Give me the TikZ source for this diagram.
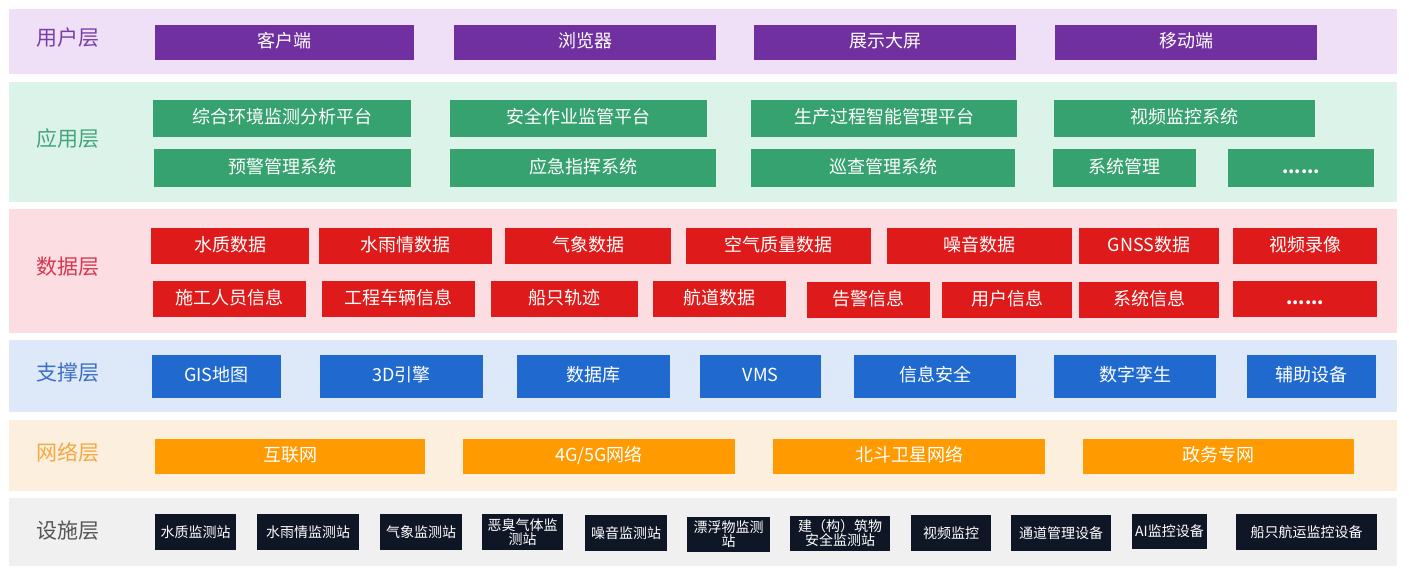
\documentclass[tikz,border=0pt]{standalone}
\usepackage{fontspec}
\newfontfamily\cjk{Noto Sans CJK SC}
\definecolor{userbg}{HTML}{EFE0F8}
\definecolor{appbg}{HTML}{DCF3EA}
\definecolor{databg}{HTML}{FCDEE2}
\definecolor{supbg}{HTML}{DDE9F8}
\definecolor{netbg}{HTML}{FDEFDE}
\definecolor{facbg}{HTML}{F0F0F0}
\definecolor{userfill}{HTML}{7030A0}
\definecolor{appfill}{HTML}{36A26F}
\definecolor{datafill}{HTML}{DF1A1A}
\definecolor{supfill}{HTML}{2069CF}
\definecolor{netfill}{HTML}{FF9A00}
\definecolor{facfill}{HTML}{0F1626}
\definecolor{userlbl}{HTML}{7A3FA6}
\definecolor{applbl}{HTML}{45A47E}
\definecolor{datalbl}{HTML}{D9364F}
\definecolor{suplbl}{HTML}{3D6EC5}
\definecolor{netlbl}{HTML}{F5A742}
\definecolor{faclbl}{HTML}{555555}
\tikzset{
  blkbase/.style={inner sep=0pt, text=white, font=\cjk\fontsize{18}{20}\selectfont},
  blkline/.style={blkbase, text height=14pt, text depth=4pt},
  userbox/.style={blkline, fill=userfill},
  appbox/.style={blkline, fill=appfill},
  databox/.style={blkline, fill=datafill},
  supbox/.style={blkline, fill=supfill},
  netbox/.style={blkline, fill=netfill},
  facbox/.style={blkbase, fill=facfill, align=center, font=\cjk\fontsize{14}{14}\selectfont},
  layerlabel/.style={inner sep=0pt, font=\cjk\fontsize{21}{23}\selectfont}
}
\def\blk[#1](#2)(#3,#4)(#5,#6)#7{\node[#1, minimum width={(#5-#3)*1pt}, minimum height={(#6-#4)*1pt}] (#2) at ({(#3+#5)/2},{(#4+#6)/2}) {#7};}

\begin{document}
\begin{tikzpicture}[x=1pt,y=-1pt]
			%%%%% START %%%%%
			\useasboundingbox (0,0) rectangle (1409,576);
			
			\fill[userbg] (9,9) rectangle (1397,74);
			\fill[appbg] (9,82) rectangle (1397,202);
			\fill[databg] (9,209) rectangle (1397,333);
			\fill[supbg] (9,340) rectangle (1397,412);
			\fill[netbg] (9,420) rectangle (1397,491);
			\fill[facbg] (9,498) rectangle (1397,566);
			
			\node[layerlabel, text=userlbl] (lyuser) at (68,38) {用户层};
			\node[layerlabel, text=applbl] (lyapp) at (68,139) {应用层};
			\node[layerlabel, text=datalbl] (lydata) at (68,267) {数据层};
			\node[layerlabel, text=suplbl] (lysup) at (68,373) {支撑层};
			\node[layerlabel, text=netlbl] (lynet) at (68,452) {网络层};
			\node[layerlabel, text=faclbl] (lyfac) at (68,531) {设施层};
			
			% user layer
			\blk[userbox](khd)(155,25)(414,60){客户端}
			\blk[userbox](llq)(454,25)(716,60){浏览器}
			\blk[userbox](zsdp)(754,25)(1016,60){展示大屏}
			\blk[userbox](ydd)(1055,25)(1317,60){移动端}
			
			% application layer
			\blk[appbox](zhhj)(153,100)(411,137){综合环境监测分析平台}
			\blk[appbox](aqzy)(450,100)(707,137){安全作业监管平台}
			\blk[appbox](scgc)(751,100)(1017,137){生产过程智能管理平台}
			\blk[appbox](spjk)(1054,100)(1315,137){视频监控系统}
			\blk[appbox](yjgl)(154,149)(411,187){预警管理系统}
			\blk[appbox](yjzh)(450,149)(716,187){应急指挥系统}
			\blk[appbox](xcgl)(751,149)(1015,187){巡查管理系统}
			\blk[appbox](xtgl)(1053,149)(1196,187){系统管理}
			\blk[appbox](appmore)(1228,149)(1374,187){\textbf{......}}
			
			% data layer
			\blk[databox](szsj)(151,228)(309,264){水质数据}
			\blk[databox](syqsj)(319,228)(492,264){水雨情数据}
			\blk[databox](qxsj)(505,228)(671,264){气象数据}
			\blk[databox](kqsj)(686,228)(871,264){空气质量数据}
			\blk[databox](zysj)(887,228)(1072,264){噪音数据}
			\blk[databox](gnss)(1079,228)(1219,264){GNSS数据}
			\blk[databox](splx)(1233,228)(1377,264){视频录像}
			\blk[databox](sgry)(153,281)(306,317){施工人员信息}
			\blk[databox](gccl)(322,281)(475,317){工程车辆信息}
			\blk[databox](czgj)(491,281)(638,317){船只轨迹}
			\blk[databox](hdsj)(653,281)(786,317){航道数据}
			\blk[databox](gjxx)(807,282)(930,318){告警信息}
			\blk[databox](yhxx)(942,282)(1072,318){用户信息}
			\blk[databox](xtxx)(1079,282)(1219,318){系统信息}
			\blk[databox](datamore)(1233,281)(1377,317){\textbf{......}}
			
			% support layer
			\blk[supbox](gis)(152,355)(281,398){GIS地图}
			\blk[supbox](yq3d)(320,355)(483,398){3D引擎}
			\blk[supbox](sjk)(517,355)(670,398){数据库}
			\blk[supbox](vms)(700,355)(821,398){VMS}
			\blk[supbox](xxaq)(854,355)(1016,398){信息安全}
			\blk[supbox](szls)(1054,355)(1216,398){数字孪生}
			\blk[supbox](fzsb)(1247,355)(1376,398){辅助设备}
			
			% network layer
			\blk[netbox](hlw)(155,439)(425,474){互联网}
			\blk[netbox](wl45)(463,439)(735,474){4G/5G网络}
			\blk[netbox](bdwx)(773,439)(1045,474){北斗卫星网络}
			\blk[netbox](zwzw)(1083,439)(1354,474){政务专网}
			
			% facility layer
			\blk[facbox](szz)(155,514)(236,550){水质监测站}
			\blk[facbox](syqz)(257,514)(359,550){水雨情监测站}
			\blk[facbox](qxz)(380,514)(462,550){气象监测站}
			\blk[facbox](ecqt)(482,514)(563,550){恶臭气体监\\测站}
			\blk[facbox](zyz)(585,515)(667,551){噪音监测站}
			\blk[facbox](pfw)(687,517)(770,552){漂浮物监测\\站}
			\blk[facbox](jzw)(790,516)(890,551){建（构）筑物\\安全监测站}
			\blk[facbox](spjz)(911,515)(991,551){视频监控}
			\blk[facbox](tdgl)(1011,515)(1111,551){通道管理设备}
			\blk[facbox](aijk)(1132,514)(1207,549){AI监控设备}
			\blk[facbox](cyjk)(1236,514)(1377,550){船只航运监控设备}
			
			%%%%% END %%%%%
\end{tikzpicture}
\end{document}
